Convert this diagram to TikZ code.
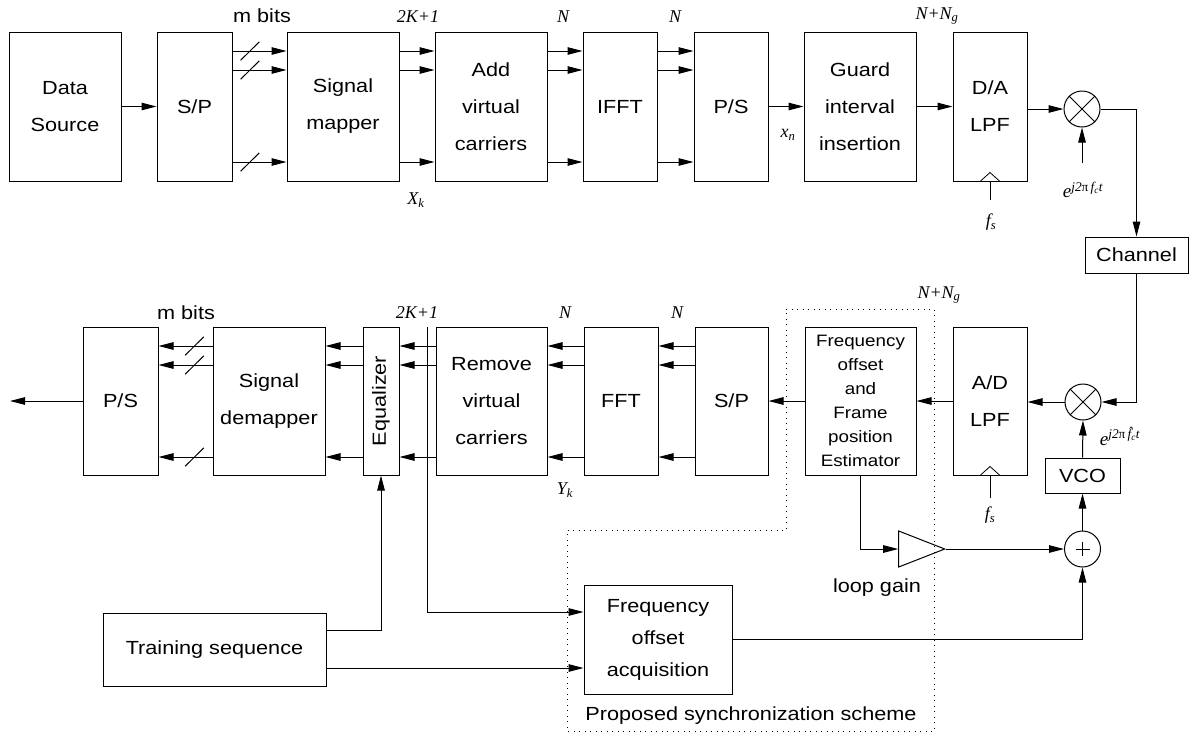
\documentclass[tikz,border=0pt]{standalone}
\usepackage{fontspec}
\setmainfont[FakeStretch=1.14]{Liberation Sans}
\newfontfamily\tms{Liberation Serif}
\usetikzlibrary{arrows.meta,shapes.geometric,calc}
\begin{document}
\begin{tikzpicture}[x=1pt,y=-1pt,
  every node/.style={font=\fontsize{19}{37}\selectfont},
  blk/.style={draw, line width=1pt, inner sep=0pt, align=center},
  ln/.style={line width=1pt},
  arr/.style={line width=1pt, -{Triangle[length=15pt,width=7.5pt]}},
  mix/.style={draw, circle, line width=1pt, minimum size=36pt, inner sep=0pt},
  lbl/.style={font=\fontsize{18}{20}\tms\itshape, inner sep=0pt},
  elbl/.style={font=\fontsize{19}{21}\tms\itshape, inner sep=0pt},
  dotbox/.style={line width=0.9pt, dash pattern=on 1pt off 4.5pt},
]
\useasboundingbox (0,0) rectangle (1189,732);

% ---------- transmitter ----------
\node[blk, minimum width=112pt, minimum height=149pt] (ds)   at (65,106.5)  {Data\\Source};
\node[blk, minimum width=75pt,  minimum height=149pt] (sp1)  at (194.5,106.5) {S/P};
\node[blk, minimum width=112pt, minimum height=149pt] (map)  at (343,106.5) {Signal\\mapper};
\node[blk, minimum width=112pt, minimum height=149pt] (avc)  at (491,106.5) {Add\\virtual\\carriers};
\node[blk, minimum width=74pt,  minimum height=149pt] (ifft) at (620,106.5) {IFFT};
\node[blk, minimum width=74pt,  minimum height=149pt] (ps1)  at (731,106.5) {P/S};
\node[blk, minimum width=112pt, minimum height=149pt] (gi)   at (860,106.5) {Guard\\interval\\insertion};
\node[blk, minimum width=74pt,  minimum height=149pt] (da)   at (990,106.5) {D/A\\LPF};
\node[mix] (m1) at (1082,109) {};
\draw[ln] (m1.north west) -- (m1.south east) (m1.north east) -- (m1.south west);
\node[blk, minimum width=103pt, minimum height=36pt] (ch) at (1136.5,255) {Channel};

% parallel lines of the transmitter
\coordinate (ra) at (0,51);
\coordinate (rb) at (0,70);
\coordinate (rc) at (0,162);
\foreach \r in {ra,rb,rc}{
  \draw[arr] (sp1.east |- \r) -- (map.west |- \r);
  \draw[ln] ($(250,0 |- \r)+(-9.3,9.2)$) -- ++(18.6,-18.4);
  \draw[arr] (map.east |- \r) -- (avc.west |- \r);
  \draw[arr] (avc.east |- \r) -- (ifft.west |- \r);
  \draw[arr] (ifft.east |- \r) -- (ps1.west |- \r);
}
\draw[arr] (ds) -- (sp1);
\draw[arr] (ps1) -- (gi);
\draw[arr] (gi) -- (da);
\draw[arr] (da.east |- m1) -- (m1.west);
\draw[arr] (m1.east) -| (ch.north);

\coordinate (eup) at (1082,163);
\draw[arr] (eup) -- (m1.south);
\node[elbl] (e1) at (1083,190) {e\textsuperscript{j2\textup{π}\,f\textsubscript{c}t}};

\coordinate (fs1b) at (990,200);
\draw[ln, line width=0.7pt] (fs1b) -- (da.south);
\draw[ln, line width=0.8pt] ($(da.south)+(-10,0)$) -- ($(da.south)+(0,-9)$) -- ($(da.south)+(10,0)$);
\node[lbl] (fs1) at (991,222) {f\textsubscript{s}};

\node (mb1) at (262,16) {m bits};
\node[lbl] (k1) at (418,17) {2K+1};
\node[lbl] (n1) at (563,17) {N};
\node[lbl] (n2) at (675,17) {N};
\node[lbl] (ng1) at (937,16) {N+N\textsubscript{g}};
\node[lbl] (xk) at (416,200) {X\textsubscript{k}};
\node[lbl] (xn) at (788,135) {x\textsubscript{n}};

% ---------- receiver ----------
\node[blk, minimum width=75pt,  minimum height=148pt] (ps2) at (120.5,401) {P/S};
\node[blk, minimum width=112pt, minimum height=148pt] (dem) at (269,401) {Signal\\demapper};
\node[blk, minimum width=36pt,  minimum height=148pt] (eq)  at (381,401) {};
\node[rotate=90] (eqt) at (eq.center) {Equalizer};
\node[blk, minimum width=111pt, minimum height=148pt] (rvc) at (491.5,401) {Remove\\virtual\\carriers};
\node[blk, minimum width=74pt,  minimum height=148pt] (fft) at (621,401) {FFT};
\node[blk, minimum width=73pt,  minimum height=148pt] (sp2) at (731.5,401) {S/P};
\node[blk, minimum width=111pt, minimum height=148pt, font=\fontsize{16.5}{24}\selectfont] (est) at (860.5,401)
  {Frequency\\offset\\and\\Frame\\position\\Estimator};
\node[blk, minimum width=74pt,  minimum height=148pt] (ad)  at (990,401) {A/D\\LPF};
\node[mix] (m2) at (1083,402) {};
\draw[ln] (m2.north west) -- (m2.south east) (m2.north east) -- (m2.south west);
\node[blk, minimum width=75pt, minimum height=35pt] (vco) at (1082.5,475.5) {VCO};
\node[mix] (sum) at (1082.5,549) {};
\draw[ln] ($(sum.center)+(-7,0)$) -- ++(14,0) ($(sum.center)+(0,-7)$) -- ++(0,14);
\node[draw, line width=1pt, isosceles triangle, isosceles triangle stretches,
      minimum height=46pt, minimum width=36pt, inner sep=0pt] (lg) at (911,549) {};
\node[blk, minimum width=223pt, minimum height=73pt] (tr) at (214.5,649.5) {Training sequence};
\node[blk, minimum width=148pt, minimum height=109pt, font=\fontsize{19}{32}\selectfont] (acq) at (658,639.5)
  {Frequency\\offset\\acquisition};

% parallel lines of the receiver
\coordinate (sa) at (0,346);
\coordinate (sb) at (0,365);
\coordinate (sc) at (0,457);
\foreach \r in {sa,sb,sc}{
  \draw[arr] (sp2.west |- \r) -- (fft.east |- \r);
  \draw[arr] (fft.west |- \r) -- (rvc.east |- \r);
  \draw[arr] (rvc.west |- \r) -- (eq.east |- \r);
  \draw[arr] (eq.west |- \r) -- (dem.east |- \r);
  \draw[arr] (dem.west |- \r) -- (ps2.east |- \r);
  \draw[ln] ($(194.5,0 |- \r)+(-9.3,9.2)$) -- ++(18.6,-18.4);
}
\coordinate (out) at (10,401);
\draw[arr] (ps2.west) -- (out);
\draw[arr] (ch.south) |- (m2.east);
\draw[arr] (m2.west) -- (ad.east |- m2);
\draw[arr] (ad) -- (est);
\draw[arr] (est) -- (sp2);
\draw[arr] (vco.north) -- (m2.south);
\draw[arr] (sum.north) -- (vco.south);
\draw[arr] (est.south) |- (lg.west);
\draw[arr] (lg.east) -- (sum.west);
\draw[arr] (acq.east) -| (sum.south);

% tap of the equalizer input and the training sequence
\coordinate (tap) at (427,327);
\draw[arr] (tap) |- (acq.west |- 0,612);
\draw[arr] (tr.east |- 0,630) -| (eq.south);
\draw[arr] (tr.east |- 0,668) -- (acq.west |- 0,668);

\coordinate (fs2b) at (990,498);
\draw[ln, line width=0.7pt] (fs2b) -- (ad.south);
\draw[ln, line width=0.8pt] ($(ad.south)+(-10,0)$) -- ($(ad.south)+(0,-9)$) -- ($(ad.south)+(10,0)$);
\node[lbl] (fs2) at (990,515) {f\textsubscript{s}};

\node (mb2) at (186,313) {m bits};
\node[lbl] (k2) at (417,313) {2K+1};
\node[lbl] (n3) at (565,313) {N};
\node[lbl] (n4) at (677,313) {N};
\node[lbl] (ng2) at (939,295) {N+N\textsubscript{g}};
\node[lbl] (yk) at (565,490) {Y\textsubscript{k}};
\node[elbl] (e2) at (1120,436) {e\textsuperscript{j2\textup{π}\,\^{f}\textsubscript{c}t}};
\node (lgt) at (877,588) {loop gain};

% synchronization block boundary
\draw[dotbox] (786,309) -- (934,309) -- (934,731) -- (567,731) -- (567,530) -- (786,530) -- cycle;
\node (pss) at (751,716) {Proposed synchronization scheme};
\end{tikzpicture}
\end{document}
